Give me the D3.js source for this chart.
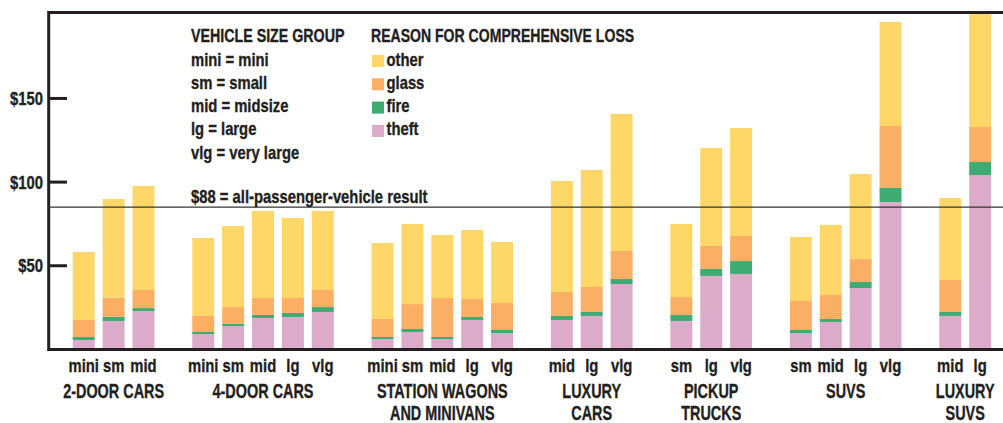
<!DOCTYPE html>
<html><head><meta charset="utf-8">
<script src="https://cdn.jsdelivr.net/npm/d3@7/dist/d3.min.js"></script>
<style>
body{margin:0;background:#fff;}
text{font-family:"Liberation Sans",Arial,sans-serif;font-weight:bold;fill:#231f20;stroke:#231f20;stroke-width:0.35px;}
</style></head>
<body><svg id="c" width="1003" height="423"></svg>
<script>
const groupNames = [["2-DOOR CARS"],["4-DOOR CARS"],["STATION WAGONS","AND MINIVANS"],["LUXURY","CARS"],["PICKUP","TRUCKS"],["SUVS"],["LUXURY","SUVS"]];
const groupSizes = [["mini","sm","mid"],["mini","sm","mid","lg","vlg"],["mini","sm","mid","lg","vlg"],["mid","lg","vlg"],["sm","lg","vlg"],["sm","mid","lg","vlg"],["mid","lg"]];
const theft = [5.6,17.0,22.9, 9.2,14.0,18.8,19.4,22.4, 6.2,10.4,6.2,17.6,9.8, 17.6,20.0,39.1, 17.0,43.9,45.1, 9.8,16.4,36.7,88.1, 20.0,104.2];
const fire  = [1.8,2.5,1.8, 1.2,1.4,1.8,2.4,2.9, 1.2,1.8,1.2,1.8,1.8, 2.4,2.4,3.0, 3.6,4.2,7.7, 1.8,1.8,3.6,8.4, 2.4,7.8];
const glass = [10.2,11.4,10.8, 9.6,9.9,10.1,8.9,10.2, 10.8,14.9,23.3,10.7,16.1, 14.3,14.9,16.7, 10.7,13.7,15.0, 17.3,14.3,13.7,37.0, 19.1,20.9];
const other = [40.6,59.0,62.2, 46.6,48.5,52.0,47.8,47.2, 45.4,47.9,37.7,41.3,36.5, 66.4,69.9,81.9, 43.7,58.6,64.5, 38.3,41.9,50.8,62.2, 49.0,72.0];
const seriesNames = ["theft","fire","glass","other"];
const seriesColors = ["#dbabc9","#3dab72","#fbaf64","#ffd769"];
const yTicks = [50,100,150];
const refValue = 85;
const refLabel = "$88 = all-passenger-vehicle result";
const sizeLegend = ["mini = mini","sm = small","mid = midsize","lg = large","vlg = very large"];

const svg = d3.select("#c");
function txt(parent, x, y, s, size, anchor, sx) {
  return parent.append("text").attr("transform", `translate(${x},${y}) scale(${sx},1)`)
    .attr("text-anchor", anchor || "start").attr("font-size", size).text(s);
}
const bars = []; const slots = [];
let k = 0;
groupSizes.forEach((sizes, gi) => {
  sizes.forEach((s, si) => {
    const key = gi + "-" + si; slots.push(key);
    bars.push({key, gi, size:s, theft:theft[k], fire:fire[k], glass:glass[k], other:other[k]}); k++;
  });
  if (gi < groupSizes.length - 1) slots.push("gap" + gi);
});
const x = d3.scaleBand().domain(slots).range([68.8, 995.1]).paddingInner(0.265).paddingOuter(0.1325);
const y = d3.scaleLinear().domain([0, 200]).range([349.4, 14.8]);
const fL = 48.7, fT = 12.5, fB = 349.5, fR = 1003;

svg.append("defs").append("clipPath").attr("id","clip").append("rect")
  .attr("x", fL).attr("y", fT).attr("width", fR-fL).attr("height", fB-fT);

const stack = d3.stack().keys(seriesNames)(bars);
const g = svg.append("g").attr("clip-path","url(#clip)");
stack.forEach((layer, li) => {
  g.selectAll(null).data(layer).enter().append("rect")
    .attr("x", d => x(d.data.key)).attr("width", x.bandwidth())
    .attr("y", d => y(d[1])).attr("height", d => y(d[0]) - y(d[1]))
    .attr("fill", seriesColors[li]);
});

svg.append("line").attr("x1", fL).attr("x2", fR).attr("y1", fT).attr("y2", fT).attr("stroke","#231f20").attr("stroke-width",3);
svg.append("line").attr("x1", fL).attr("x2", fL).attr("y1", fT-1.5).attr("y2", fB+1.5).attr("stroke","#231f20").attr("stroke-width",3);
svg.append("line").attr("x1", fL).attr("x2", fR).attr("y1", fB).attr("y2", fB).attr("stroke","#231f20").attr("stroke-width",3);
svg.append("line").attr("x1", fL).attr("x2", fR).attr("y1", y(refValue)).attr("y2", y(refValue)).attr("stroke","#333").attr("stroke-width",1.2);

yTicks.forEach(t => {
  svg.append("line").attr("x1", fL).attr("x2", 67).attr("y1", y(t)).attr("y2", y(t)).attr("stroke","#231f20").attr("stroke-width",3);
  txt(svg, 43, y(t) + 6.5, "$" + t, 18.5, "end", 0.8);
});

bars.forEach(d => txt(svg, x(d.key) + x.bandwidth()/2, 372, d.size, 18.5, "middle", 0.8));
groupNames.forEach((lines, gi) => {
  const gb = bars.filter(b => b.gi === gi);
  const cx = (x(gb[0].key) + x(gb[gb.length-1].key) + x.bandwidth())/2;
  lines.forEach((ln, li) => txt(svg, cx, 398 + li*21.5, ln, 19.5, "middle", 0.74));
});

txt(svg, 191, 41.5, "VEHICLE SIZE GROUP", 18.5, "start", 0.77);
sizeLegend.forEach((s,i) => txt(svg, 191, 65.5 + i*23.3, s, 18.5, "start", 0.8));
txt(svg, 191, 202.5, refLabel, 18.5, "start", 0.8);
txt(svg, 371, 41.5, "REASON FOR COMPREHENSIVE LOSS", 18.5, "start", 0.76);
const legOrder = ["other","glass","fire","theft"];
legOrder.forEach((s,i) => {
  const ci = seriesNames.indexOf(s);
  svg.append("rect").attr("x",372).attr("y",55 + i*23.3).attr("width",12).attr("height",12).attr("fill",seriesColors[ci]);
  txt(svg, 386.5, 65.5 + i*23.3, s, 18.5, "start", 0.8);
});
</script></body></html>
